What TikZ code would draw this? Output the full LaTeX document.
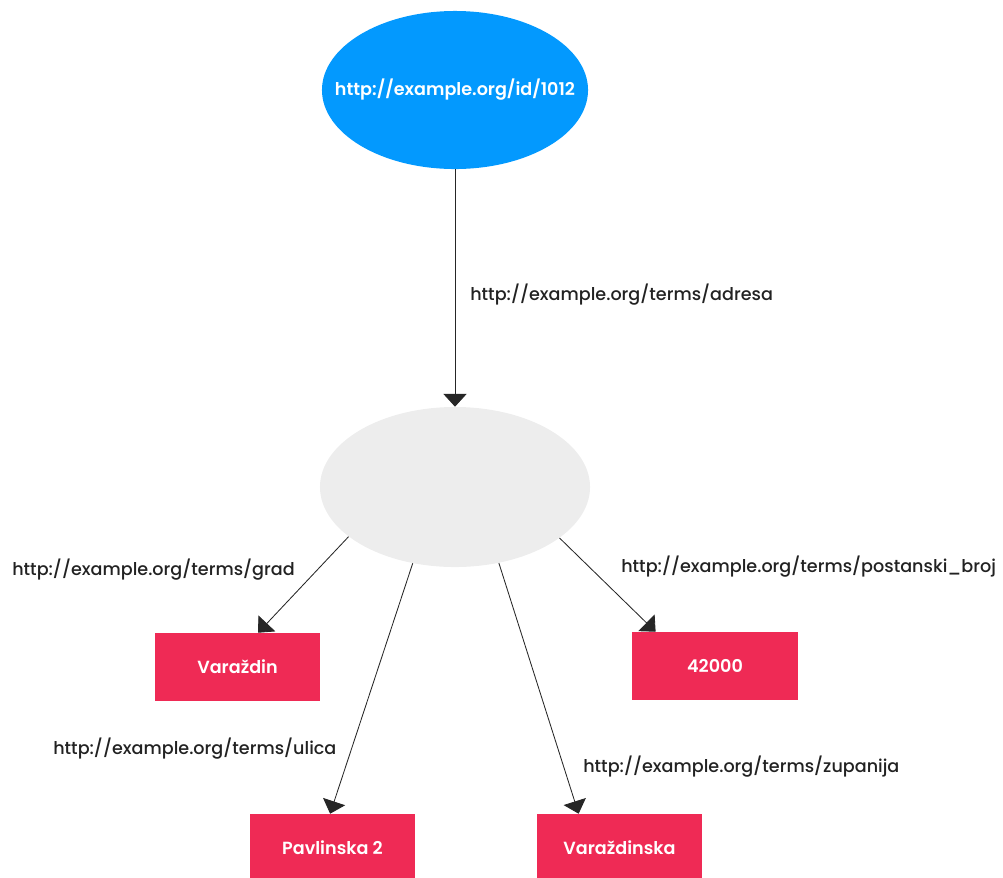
\documentclass[tikz,border=0pt]{standalone}
\usepackage{fontspec}
\setmainfont{Poppins}[BoldFont={Poppins SemiBold}]
\newfontfamily\propfont{Poppins Medium}
\usepackage{tikz}
\usetikzlibrary{shapes.geometric,arrows.meta}

\definecolor{resblue}{RGB}{3,153,254}
\definecolor{blankgray}{RGB}{237,237,237}
\definecolor{litred}{RGB}{239,42,85}
\definecolor{edgetext}{RGB}{34,34,34}

\tikzset{
  resource/.style={ellipse, fill=resblue, minimum width=6.65cm, minimum height=3.95cm, inner sep=0pt},
  restext/.style={text=white, font=\fontsize{12.5}{15}\selectfont\bfseries},
  blank/.style={ellipse, fill=blankgray, minimum width=6.75cm, minimum height=4.0cm, inner sep=0pt},
  literal/.style={rectangle, fill=litred, text=white, font=\fontsize{12.5}{15}\selectfont\bfseries,
    minimum width=4.125cm, minimum height=1.7cm, inner sep=0pt},
  property/.style={anchor=west, text=edgetext, font=\propfont\fontsize{12.5}{15}\selectfont, inner sep=0pt},
  link/.style={draw=black!85, line width=0.6pt, -{Triangle[length=0.32cm,width=0.58cm]}}
}

\begin{document}
\begin{tikzpicture}[x=0.025cm, y=-0.025cm] % 1 unit = 1 px of the original
  \useasboundingbox (0,0) rectangle (1003,877);

  % Subject and blank node
  \node[resource, label={[restext]center:http://example.org/id/1012}] (subj) at (455,90) {};
  \node[blank] (addr) at (455,487) {};

  % Literal values
  \node[literal] (grad) at (237.5,667) {Varaždin};
  \node[literal] (post) at (715,666) {42000};
  \node[literal] (ulica) at (332.5,848) {Pavlinska 2};
  \node[literal] (zup) at (619.5,848) {Varaždinska};

  % Properties
  \draw[link] (subj) -- (addr);
  \draw[link] (addr.205.5) -- (grad.59);
  \draw[link] (addr.334) -- (post.150);
  \draw[link] (addr.241.7) -- (ulica.94);
  \draw[link] (addr.300) -- (zup.140.7);

  % Property labels
  \node[property] (ladresa) at (470,295) {http://example.org/terms/adresa};
  \node[property] (lgrad) at (12,570) {http://example.org/terms/grad};
  \node[property] (lpost) at (621,567) {http://example.org/terms/postanski\_broj};
  \node[property] (lulica) at (53,749) {http://example.org/terms/ulica};
  \node[property] (lzup) at (583,767) {http://example.org/terms/zupanija};
\end{tikzpicture}
\end{document}
